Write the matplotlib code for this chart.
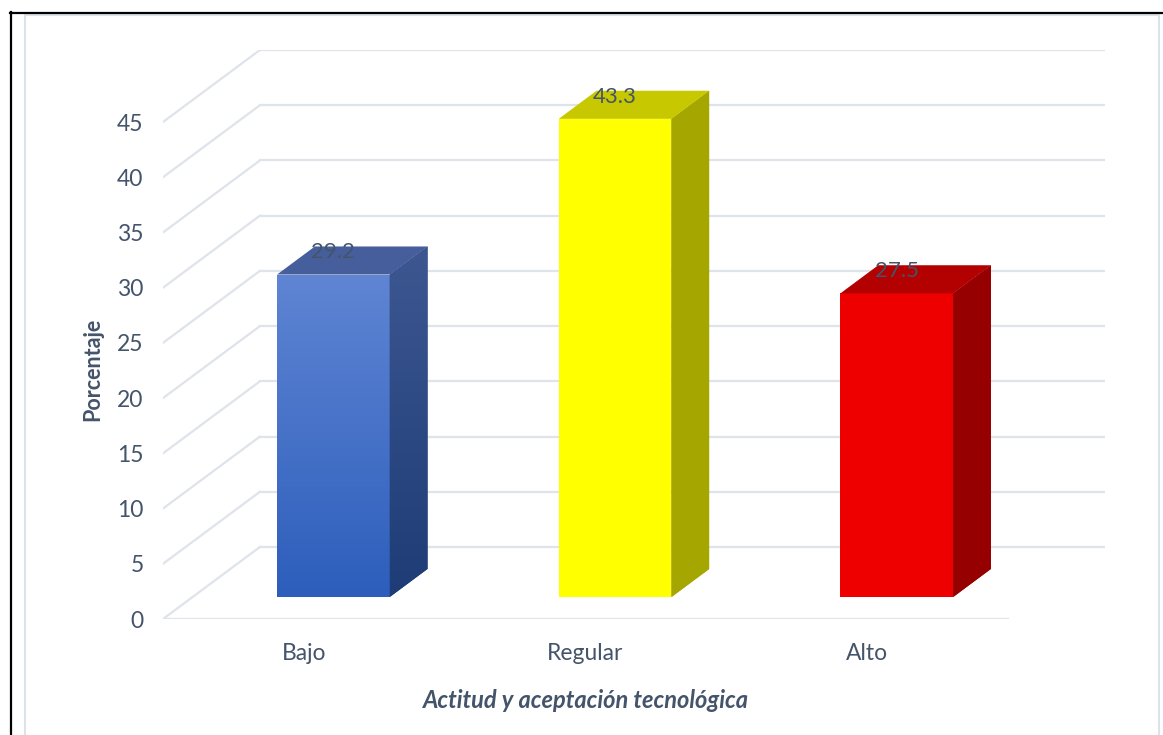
import numpy as np
import matplotlib.pyplot as plt
from matplotlib.patches import Polygon
from matplotlib.lines import Line2D
from matplotlib.colors import LinearSegmentedColormap

plt.rcParams['font.family'] = ['Lato', 'DejaVu Sans']

categorias = ['Bajo', 'Regular', 'Alto']
porcentajes = [29.2, 43.3, 27.5]
marcas_y = [0, 5, 10, 15, 20, 25, 30, 35, 40, 45]

# colores de cada barra: frente (arriba, abajo), tapa, lado (arriba, abajo)
col_frente = [('#5F85D3', '#2D5EBC'), ('#FFFF00', '#FFFF00'), ('#EE0000', '#EE0000')]
col_tapa = ['#465F9C', '#C8C800', '#B30000']
col_lado = [('#3D5791', '#1E3C76'), ('#A6A600', '#A6A600'), ('#970000', '#970000')]

texto = '#44546A'
rejilla = '#DFE3EA'

# perspectiva: desplazamiento del fondo en unidades de categoria / valor
DX, DY = 0.344, 6.52
D0, DB = 0.305, 0.39   # posicion del frente de la barra y su profundidad
ANCHO = 0.4

fig = plt.figure(figsize=(11.63, 7.35), dpi=100)
ax = fig.add_axes([163 / 1163, 116 / 735, 942 / 1163, 569 / 735])
n = len(categorias)
xmax, ymax = n + DX, marcas_y[-1] + DY


def degradado(ax, poly, c_arriba, c_abajo, y0, y1, x0, x1):
    cmap = LinearSegmentedColormap.from_list('g', [c_abajo, c_arriba])
    img = ax.imshow(np.linspace(0, 1, 256).reshape(-1, 1), cmap=cmap,
                    extent=[x0, x1, y0, y1], origin='lower', aspect='auto',
                    zorder=poly.get_zorder(), interpolation='bilinear')
    img.set_clip_path(poly)


# paredes: lineas laterales y del fondo
for t in marcas_y:
    ax.plot([0, DX], [t, t + DY], color=rejilla, lw=1.6, zorder=1)
    ax.plot([DX, n + DX], [t + DY, t + DY], color=rejilla, lw=1.6, zorder=1)
ax.plot([0, n], [0, 0], color=rejilla, lw=1.6, zorder=1)

for i, v in enumerate(porcentajes):
    xc = i + 0.5
    x0 = xc - ANCHO / 2 + DX * D0
    x1 = xc + ANCHO / 2 + DX * D0
    yb = DY * D0
    yt = v + DY * D0
    ddx, ddy = DX * DB, DY * DB

    frente = Polygon([(x0, yb), (x1, yb), (x1, yt), (x0, yt)], closed=True,
                     facecolor=col_frente[i][1], edgecolor='none', zorder=3)
    ax.add_patch(frente)
    degradado(ax, frente, col_frente[i][0], col_frente[i][1], yb, yt, x0, x1)

    lado = Polygon([(x1, yb), (x1 + ddx, yb + ddy), (x1 + ddx, yt + ddy), (x1, yt)],
                   closed=True, facecolor=col_lado[i][1], edgecolor='none', zorder=3)
    ax.add_patch(lado)
    degradado(ax, lado, col_lado[i][0], col_lado[i][1], yb, yt + ddy, x1, x1 + ddx)

    tapa = Polygon([(x0, yt), (x1, yt), (x1 + ddx, yt + ddy), (x0 + ddx, yt + ddy)],
                   closed=True, facecolor=col_tapa[i], edgecolor='none', zorder=3)
    ax.add_patch(tapa)

    ax.text(xc + DX * D0, v + 4.0, f'{v:.1f}', ha='center', va='center',
            fontsize=16, color=texto, zorder=5)

ax.set_xlim(0, xmax)
ax.set_ylim(0, ymax)
ax.set_xticks([i + 0.5 for i in range(n)])
ax.set_xticklabels(categorias)
ax.set_yticks(marcas_y)
ax.tick_params(axis='both', length=0, labelsize=16.5, labelcolor=texto)
ax.tick_params(axis='y', pad=14)
ax.tick_params(axis='x', pad=17)
for s in ax.spines.values():
    s.set_visible(False)

ax.set_ylabel('Porcentaje', fontsize=15.5, fontweight='bold', color=texto)
ax.yaxis.set_label_coords(-0.063, 0.438)
ax.set_xlabel('Actitud y aceptación tecnológica', fontsize=17,
              fontweight='bold', fontstyle='italic', color=texto)
ax.xaxis.set_label_coords(0.449, -0.123)

# marco del grafico
W, H = 1163, 735
fig.add_artist(Line2D([25 / W, 25 / W], [0, 1 - 15 / H], color='#DDE2EA', lw=1.5))
fig.add_artist(Line2D([25 / W, 1159 / W], [1 - 15 / H, 1 - 15 / H], color='#DDE2EA', lw=1.5))
fig.add_artist(Line2D([1159 / W, 1159 / W], [0, 1 - 15 / H], color='#DDE2EA', lw=1.5))
fig.add_artist(Line2D([10.5 / W, 10.5 / W], [0, 1 - 12 / H], color='black', lw=1.6))
fig.add_artist(Line2D([10 / W, 1], [1 - 12.5 / H, 1 - 12.5 / H], color='black', lw=1.6))

fig.savefig('out.png', dpi=100)
